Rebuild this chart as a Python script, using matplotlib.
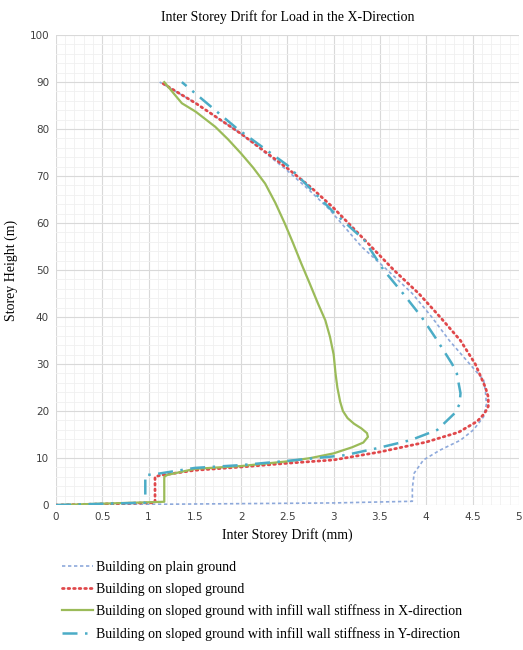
import matplotlib.pyplot as plt
from matplotlib.ticker import MultipleLocator

# Valores (deriva em mm, altura em m)
plain_x = [0, 1.0, 2.0, 3.0, 3.85, 3.85, 3.87, 3.97, 4.15, 4.37, 4.51, 4.62, 4.65, 4.64,
           4.62, 4.47, 4.25, 4.06, 3.85, 3.58, 3.30, 2.95, 2.72, 2.48, 2.0, 1.51, 1.12]
plain_y = [0, 0.15, 0.3, 0.45, 0.8, 3.6, 6.8, 9.6, 11.7, 13.8, 16, 18.8, 21.5, 24,
           26.6, 30, 35, 40, 45, 50, 55, 63, 67.3, 71.5, 79, 85.5, 90]

sloped_x = [0, 1.07, 1.07, 1.12, 1.5, 2.0, 2.5, 3.0, 3.5, 4.0, 4.35, 4.55, 4.63, 4.67, 4.67,
            4.64, 4.53, 4.37, 4.15, 3.92, 3.65, 3.38, 3.0, 2.76, 2.51, 2.0, 1.51, 1.13]
sloped_y = [0, 0.5, 6.0, 6.3, 7.4, 8.1, 8.9, 9.6, 11.3, 13.4, 15.5, 17.8, 19.5, 21, 23,
            25, 30, 35, 40, 45, 50, 55.5, 63.2, 67.5, 71.5, 79, 85.5, 90]

infx_x = [0, 1.17, 1.17, 1.2, 1.5, 2.0, 2.5, 2.75, 3.0, 3.2, 3.32, 3.37, 3.36, 3.3, 3.22,
          3.15, 3.1, 3.07, 3.04, 3.02, 3.0, 2.96, 2.91, 2.83, 2.74, 2.65, 2.56, 2.47,
          2.37, 2.26, 2.13, 2.0, 1.86, 1.72, 1.51, 1.36, 1.17]
infx_y = [0, 0.7, 6.0, 6.4, 7.7, 8.3, 9.3, 10.0, 11.0, 12.3, 13.3, 14.5, 15.3, 16.3, 17.3,
          18.5, 20, 22, 25, 28, 32, 35.8, 39.3, 42.9, 47.2, 51.4, 55.8, 60,
          64.3, 68.4, 71.8, 74.8, 77.8, 80.5, 83.7, 85.5, 90]

infy_x = [0, 0.965, 0.965, 1.05, 1.5, 2.0, 2.5, 3.12, 3.47, 3.83, 4.12, 4.31, 4.36, 4.37,
          4.33, 4.28, 4.12, 3.95, 3.75, 3.54, 3.33, 3.0, 2.75, 2.5, 1.95, 1.36]
infy_y = [0, 0.5, 6.4, 6.5, 7.9, 8.5, 9.4, 10.6, 12.1, 13.8, 16, 19.6, 21.5, 23.8,
          28, 30, 35, 40, 45, 50, 56.4, 62.3, 67.3, 72.3, 80.2, 90]

labels = ["Building on plain ground",
          "Building on sloped ground",
          "Building on sloped ground with infill wall stiffness in X-direction",
          "Building on sloped ground with infill wall stiffness in Y-direction"]

serif = "Liberation Serif"

fig = plt.figure(figsize=(5.23, 6.5), dpi=100)
ax = fig.add_axes([0.107, 0.223, 0.885, 0.723])

ax.plot(plain_x, plain_y, color="#8EA9DB", lw=1.2, linestyle=(0, (2, 1.6)), label=labels[0])
ax.plot(sloped_x, sloped_y, color="#E0484B", lw=2.0, linestyle=(0, (0.6, 1.4)),
        dash_capstyle="round", label=labels[1])
ax.plot(infx_x, infx_y, color="#9BBB59", lw=1.6, label=labels[2])
ax.plot(infy_x, infy_y, color="#4BACC6", lw=1.8, linestyle=(0, (6, 3, 1, 3)), label=labels[3])

ax.set_xlim(0, 5)
ax.set_ylim(0, 100)
ax.xaxis.set_minor_locator(MultipleLocator(0.1))
ax.yaxis.set_major_locator(MultipleLocator(10))
ax.yaxis.set_minor_locator(MultipleLocator(2))
ax.set_xticks([0, 0.5, 1, 1.5, 2, 2.5, 3, 3.5, 4, 4.5, 5])
ax.set_xticklabels(["0", "0.5", "1", "1.5", "2", "2.5", "3", "3.5", "4", "4.5", "5"])
ax.grid(which="major", color="#D9D9D9", lw=0.8)
ax.grid(which="minor", color="#F0F0F0", lw=0.6)
ax.set_axisbelow(True)
ax.tick_params(which="both", length=0, labelsize=7.5, labelcolor="#404040", pad=5)
for s in ax.spines.values():
    s.set_visible(False)

ax.set_title("Inter Storey Drift for Load in the X-Direction", family=serif, fontsize=10, pad=10)
ax.set_xlabel("Inter Storey Drift (mm)", family=serif, fontsize=10, labelpad=4)
ax.set_ylabel("Storey Height (m)", family=serif, fontsize=10, labelpad=8)

fig.legend(loc="upper left", bbox_to_anchor=(0.107, 0.145), frameon=False,
           prop={"family": serif, "size": 10}, handlelength=2.3, handletextpad=0.2,
           labelspacing=0.62, borderaxespad=0)

plt.savefig("out.png", dpi=100)
